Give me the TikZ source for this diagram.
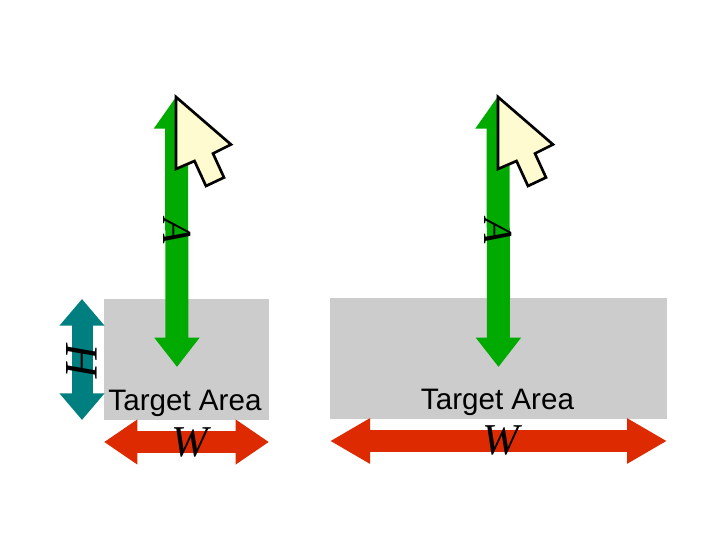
\documentclass[tikz,border=0pt]{standalone}
\usepackage{fontspec}
\setmainfont{Liberation Sans}
\newfontfamily\varfont[Ligatures=TeX]{Liberation Serif}
\usepackage{tikz}
\usetikzlibrary{arrows.meta, positioning}
\definecolor{movegreen}{HTML}{00AA00}
\definecolor{heightteal}{HTML}{007F80}
\definecolor{widthred}{HTML}{DD2A00}
\definecolor{areagray}{HTML}{CCCCCC}
\definecolor{cursorcream}{HTML}{FFFBD0}

\begin{document}
\begin{tikzpicture}[
    x=0.75pt, y=-0.75pt,
    area/.style={rectangle, fill=areagray, inner sep=0pt, minimum height=90.75pt},
    areatext/.style={font=\fontsize{22.2}{24}\selectfont, inner sep=0pt},
    var/.style={font=\fontsize{31}{34}\selectfont\varfont\itshape, inner sep=0pt},
    movearrow/.style={{Triangle[length=24.5pt,width=32.5pt]}-{Triangle[length=22pt,width=32.5pt]}, line width=17.25pt, movegreen},
    heightarrow/.style={{Triangle[length=20pt,width=32.5pt]}-{Triangle[length=20pt,width=32.5pt]}, line width=15.75pt, heightteal},
    widtharrow/.style={{Triangle[length=#1,width=32pt]}-{Triangle[length=#1,width=32pt]}, line width=16.25pt, widthred},
    cursor/.style={draw=black, fill=cursorcream, line width=2pt, line join=miter}
]
\useasboundingbox (0,0) rectangle (728,546);

% Target areas
\node (leftarea) [area, minimum width=123.75pt] at (186.5,359.5) {};
\node (rightarea) [area, minimum width=252.75pt] at (498.5,358.5) {};

% Arrow ends
\coordinate (lefttop) at (176.5,96);
\coordinate (leftbottom) at (177,367);
\coordinate (righttop) at (498,96);
\coordinate (rightbottom) at (498.5,367);
\coordinate (heighttop) at (82,299);
\coordinate (heightbottom) at (82,420);
\coordinate (leftwidthstart) at (104,442);
\coordinate (leftwidthend) at (269,442);
\coordinate (rightwidthstart) at (330,441);
\coordinate (rightwidthend) at (667,441);

% Arrows
\draw [movearrow] (lefttop) -- (leftbottom);
\draw [movearrow] (righttop) -- (rightbottom);
\draw [heightarrow] (heighttop) -- (heightbottom);
\draw [widtharrow=25pt] (leftwidthstart) -- (leftwidthend);
\draw [widtharrow=30pt] (rightwidthstart) -- (rightwidthend);

% Cursors
\draw [cursor] (176,97) -- (231,144.5) -- (213,153.5) -- (224,177.5) -- (206,186) -- (194.5,161) -- (176,169) -- cycle;
\draw [cursor] (498,97) -- (553,144.5) -- (535,153.5) -- (546,177.5) -- (528,186) -- (516.5,161) -- (498,169) -- cycle;

% Labels
\node (lefttext) [areatext] at (185,403.5) {Target Area};
\node (righttext) [areatext] at (497.5,402.5) {Target Area};
\node (leftamp) [var, rotate=-90] at (177,231) {A};
\node (rightamp) [var, rotate=-90] at (498,231) {A};
\node (heightlabel) [var, rotate=-90, font=\fontsize{35}{38}\selectfont\varfont\itshape] at (82,360) {H};
\node (leftwidth) [var, font=\fontsize{33}{36}\selectfont\varfont\itshape] at (190,442) {W};
\node (rightwidth) [var, font=\fontsize{33}{36}\selectfont\varfont\itshape] at (501,440) {W};
\end{tikzpicture}
\end{document}
